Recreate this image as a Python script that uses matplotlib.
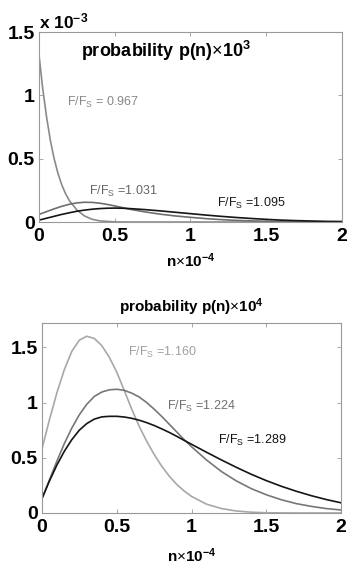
import matplotlib
matplotlib.use('Agg')
import matplotlib.pyplot as plt

plt.rcParams['font.family'] = ['Liberation Sans', 'DejaVu Sans']
plt.rcParams['mathtext.fontset'] = 'custom'
plt.rcParams['mathtext.rm'] = 'Liberation Sans'
plt.rcParams['mathtext.it'] = 'Liberation Sans:italic'
plt.rcParams['mathtext.bf'] = 'Liberation Sans:bold'

# top panel, values in units of 1e-3
x_967 = [0, 0.025, 0.05, 0.075, 0.1, 0.125, 0.15, 0.175, 0.2, 0.25, 0.3, 0.35, 0.4, 0.5, 0.6, 1.0, 2.0]
p_967 = [1.32, 1.05, 0.83, 0.645, 0.50, 0.385, 0.295, 0.225, 0.17, 0.095, 0.048, 0.022, 0.009, 0.001, 0, 0, 0]

x_top = [0, 0.05, 0.1, 0.15, 0.2, 0.25, 0.3, 0.35, 0.4, 0.45, 0.5, 0.55, 0.6, 0.7, 0.8, 0.9,
         1.0, 1.1, 1.2, 1.3, 1.4, 1.5, 1.6, 1.7, 1.8, 1.9, 2.0]
p_1031 = [0.06, 0.082, 0.104, 0.124, 0.14, 0.151, 0.156, 0.155, 0.149, 0.139, 0.127, 0.114, 0.101, 0.08,
          0.062, 0.048, 0.037, 0.027, 0.019, 0.013, 0.009, 0.006, 0.004, 0.003, 0.002, 0.0015, 0.001]
p_1095 = [0.015, 0.03, 0.045, 0.06, 0.073, 0.085, 0.094, 0.101, 0.106, 0.109, 0.11, 0.109, 0.106, 0.098,
          0.088, 0.077, 0.066, 0.055, 0.045, 0.036, 0.028, 0.021, 0.015, 0.011, 0.008, 0.005, 0.004]

# bottom panel, values in units of 1e-4
x_bot = [0, 0.05, 0.1, 0.15, 0.2, 0.25, 0.3, 0.35, 0.4, 0.45, 0.5, 0.55, 0.6, 0.65, 0.7, 0.75, 0.8,
         0.85, 0.9, 0.95, 1.0, 1.1, 1.2, 1.3, 1.4, 1.5, 1.6, 1.7, 1.8, 1.9, 2.0]
p_1160 = [0.58, 0.845, 1.09, 1.30, 1.465, 1.565, 1.60, 1.58, 1.515, 1.41, 1.275, 1.11, 0.94, 0.785, 0.65,
          0.53, 0.425, 0.335, 0.26, 0.20, 0.15, 0.08, 0.04, 0.018, 0.007, 0.002, 0.001, 0, 0, 0, 0]
p_1224 = [0.13, 0.30, 0.47, 0.63, 0.77, 0.89, 0.985, 1.055, 1.095, 1.115, 1.12, 1.11, 1.085, 1.05, 1.0,
          0.94, 0.875, 0.805, 0.735, 0.665, 0.60, 0.48, 0.375, 0.29, 0.22, 0.165, 0.12, 0.085, 0.06, 0.04, 0.027]
p_1289 = [0.13, 0.29, 0.435, 0.56, 0.665, 0.75, 0.81, 0.85, 0.87, 0.875, 0.875, 0.869, 0.857, 0.84, 0.818,
          0.792, 0.762, 0.73, 0.695, 0.658, 0.622, 0.55, 0.48, 0.413, 0.35, 0.293, 0.242, 0.197, 0.157, 0.122, 0.092]

xticks = [0, 0.5, 1, 1.5, 2]
xticklabels = ['0', '0.5', '1', '1.5', '2']
yticks = [0, 0.5, 1, 1.5]
yticklabels = ['0', '0.5', '1', '1.5']


def style(ax, ymax):
    ax.set_xlim(0, 2)
    ax.set_ylim(0, ymax)
    ax.set_xticks(xticks)
    ax.set_xticklabels(xticklabels)
    ax.set_yticks(yticks)
    ax.set_yticklabels(yticklabels)
    ax.tick_params(direction='in', top=True, right=True, length=3, width=0.6,
                   color='#999999', labelsize=14)
    ax.tick_params(axis='x', pad=4)
    ax.tick_params(axis='y', pad=3)
    for lab in ax.get_xticklabels() + ax.get_yticklabels():
        lab.set_fontweight('bold')
    for s in ax.spines.values():
        s.set_color('#999999')
        s.set_linewidth(0.8)


fig = plt.figure(figsize=(3.49, 5.74), dpi=100)

ax = fig.add_axes([0.1117, 0.6132, 0.8682, 0.3310])
ax.plot(x_967, p_967, color='#8a8a8a', lw=1.2)
ax.plot(x_top, p_1031, color='#6e6e6e', lw=1.2)
ax.plot(x_top, p_1095, color='#151515', lw=1.2)
style(ax, 1.5)
ax.text(0.42, 0.965, r'probability p(n)$\times$10$^{\mathbf{3}}$', transform=ax.transAxes,
        ha='center', va='top', fontsize=13, fontweight='bold')
ax.text(0.0, 1.005, r'x 10$^{\mathbf{-3}}$', transform=ax.transAxes, ha='left', va='bottom',
        fontsize=12.5, fontweight='bold')
ax.text(0.185, 0.945, r'F/F$_{\mathrm{S}}$ = 0.967', color='#888888', fontsize=9, va='center')
ax.text(0.33, 0.245, r'F/F$_{\mathrm{S}}$ =1.031', color='#666666', fontsize=9, va='center')
ax.text(1.175, 0.15, r'F/F$_{\mathrm{S}}$ =1.095', color='#1a1a1a', fontsize=9, va='center')
ax.set_xlabel(r'n$\times$10$^{\mathbf{-4}}$', fontsize=11, fontweight='bold', labelpad=5)

ax2 = fig.add_axes([0.1203, 0.1063, 0.857, 0.331])
ax2.plot(x_bot, p_1160, color='#a8a8a8', lw=1.2)
ax2.plot(x_bot, p_1224, color='#777777', lw=1.2)
ax2.plot(x_bot, p_1289, color='#151515', lw=1.2)
style(ax2, 1.72)
ax2.set_title(r'probability p(n)$\times$10$^{\mathbf{4}}$', fontsize=11, fontweight='bold', pad=8)
ax2.text(0.575, 1.455, r'F/F$_{\mathrm{S}}$ =1.160', color='#a0a0a0', fontsize=9, va='center')
ax2.text(0.836, 0.96, r'F/F$_{\mathrm{S}}$ =1.224', color='#707070', fontsize=9, va='center')
ax2.text(1.18, 0.66, r'F/F$_{\mathrm{S}}$ =1.289', color='#111111', fontsize=9, va='center')
ax2.set_xlabel(r'n$\times$10$^{\mathbf{-4}}$', fontsize=11, fontweight='bold', labelpad=8)

fig.savefig('out.png', dpi=100)
